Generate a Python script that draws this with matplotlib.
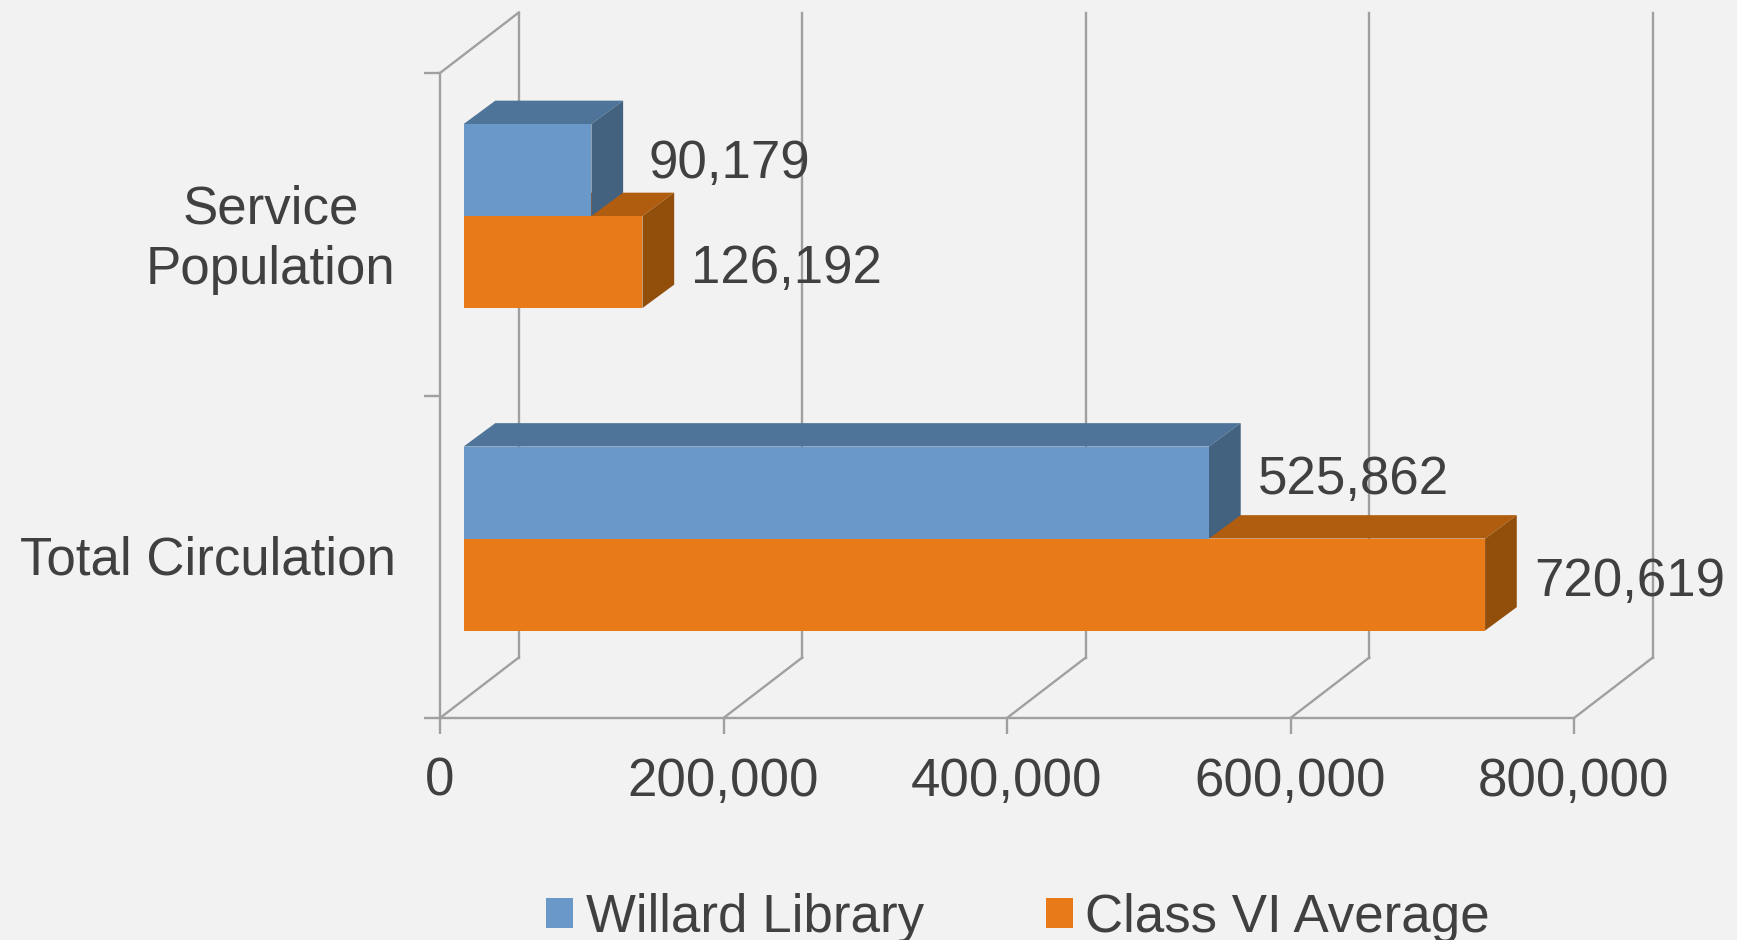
import matplotlib
matplotlib.use('Agg')
import matplotlib.pyplot as plt
from matplotlib.patches import Polygon, Patch
from matplotlib.transforms import ScaledTranslation

categories = ['Total Circulation', 'Service\nPopulation']
willard = [525862, 90179]
class_vi = [720619, 126192]
series_names = ['Willard Library', 'Class VI Average']
x_ticks = [0, 200000, 400000, 600000, 800000]
x_tick_labels = ['0', '200,000', '400,000', '600,000', '800,000']

W, H = 1737, 940
BG = '#f2f2f2'
TXT = '#404040'
GRID = '#a0a0a0'
BLUE = ['#6a98c9', '#4e7499', '#436280']
ORANGE = ['#e97a18', '#b15d0f', '#924f0c']

plt.rcParams['font.family'] = ['Liberation Sans', 'DejaVu Sans']
FS = 38.1
LW = 1.7

fig = plt.figure(figsize=(W / 100, H / 100), dpi=100, facecolor=BG)
# plot area in pixels: x 440-1574, y 73-718
ax = fig.add_axes([440 / W, 1 - 718 / H, 1134 / W, 645 / H], facecolor='none')
ax.set_xlim(0, 800000)
ax.set_ylim(0, 2)

# fake 3d depth is worked out in pixels and turned into data units
px = 800000 / 1134
py = 2 / 645
wall_dx, wall_dy = 78.8 * px, 60.5 * py
bar_x0, bar_y0 = 23.6 * px, 18.2 * py
bar_dx, bar_dy = 31.7 * px, 23.4 * py
bar_h = 92 * py


def add_bar(val, ybottom, cols, z):
    xl = bar_x0
    xr = bar_x0 + val
    ax.barh(ybottom, val, height=bar_h, left=xl, align='edge', color=cols[0], zorder=z + 0.2)
    top = [(xl, ybottom + bar_h), (xr, ybottom + bar_h),
           (xr + bar_dx, ybottom + bar_h + bar_dy), (xl + bar_dx, ybottom + bar_h + bar_dy)]
    side = [(xr, ybottom), (xr + bar_dx, ybottom + bar_dy),
            (xr + bar_dx, ybottom + bar_h + bar_dy), (xr, ybottom + bar_h)]
    ax.add_patch(Polygon(top, closed=True, color=cols[1], lw=0, zorder=z))
    ax.add_patch(Polygon(side, closed=True, color=cols[2], lw=0, zorder=z + 0.1))


# walls and floor
for t in x_ticks:
    ax.plot([t, t + wall_dx], [0, wall_dy], color=GRID, lw=LW, clip_on=False, zorder=1)
    ax.plot([t + wall_dx, t + wall_dx], [wall_dy, 2 + wall_dy], color=GRID, lw=LW, clip_on=False, zorder=1)
ax.plot([0, wall_dx], [2, 2 + wall_dy], color=GRID, lw=LW, clip_on=False, zorder=1)

for i in range(len(categories)):
    mid = i + 0.5 + bar_y0
    add_bar(class_vi[i], mid - bar_h, ORANGE, 3 + i * 2)
    add_bar(willard[i], mid, BLUE, 4 + i * 2)

# label offsets in points (x from bar value, baseline from category centre)
lab_off = {
    (1, 0): (116, 40.5),
    (1, 1): (121, -35),
    (0, 0): (121, 45),
    (0, 1): (121, -28),
}
for i in range(len(categories)):
    for s, val in enumerate([willard[i], class_vi[i]]):
        ax.annotate(f'{val:,}', (val, i + 0.5), xytext=lab_off[(i, s)], textcoords='offset points',
                    ha='center', va='baseline', fontsize=FS, color=TXT, zorder=10)

for s in ['top', 'right']:
    ax.spines[s].set_visible(False)
for s in ['left', 'bottom']:
    ax.spines[s].set_color(GRID)
    ax.spines[s].set_linewidth(LW)

ax.set_xticks(x_ticks)
ax.set_xticklabels(x_tick_labels, fontsize=FS, color=TXT)
ax.set_yticks([0, 1, 2])
ax.set_yticklabels([])
ax.tick_params(axis='both', which='major', length=11.5, width=LW, color=GRID)
ax.tick_params(axis='x', pad=16.5)
ax.set_yticks([0.5, 1.5], minor=True)
ax.set_yticklabels(categories, minor=True, fontsize=FS, color=TXT, multialignment='center', linespacing=1.27)
ax.tick_params(axis='y', which='minor', length=0, pad=32)
# nudge category labels up a little
for lbl, up in zip(ax.get_yticklabels(minor=True), [1.6, 3.6]):
    lbl.set_transform(lbl.get_transform() + ScaledTranslation(0, up / 72, fig.dpi_scale_trans))

handles = [Patch(color=BLUE[0], lw=0), Patch(color=ORANGE[0], lw=0)]
fig.legend(handles, series_names, loc='center', bbox_to_anchor=(1018 / W, 1 - 918 / H), ncol=2, frameon=False,
           fontsize=FS, labelcolor=TXT, handlelength=0.51, handleheight=0.51, handletextpad=0.24,
           columnspacing=2.3, borderpad=0, borderaxespad=0)

fig.savefig('out.png', dpi=100, facecolor=BG)
